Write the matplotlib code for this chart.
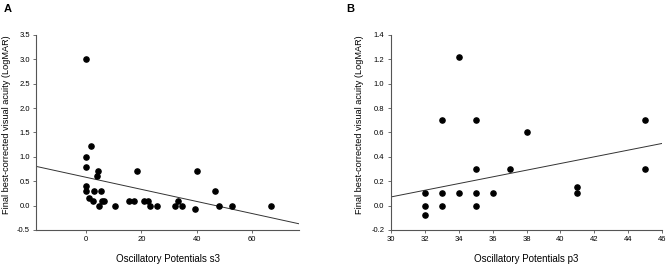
import numpy as np
import matplotlib
matplotlib.use("Agg")
import matplotlib.pyplot as plt

plt.rcParams['font.family'] = ['Liberation Sans', 'DejaVu Sans']

# panel A: oscillatory potentials s3 vs final BCVA
s3_x = [0, 0, 0, 0, 0, 2.0, 1.1, 2.9, 2.5, 4.1, 4.2, 4.7, 5.3, 5.9, 6.7,
        10.4, 15.5, 17.2, 18.4, 20.9, 22.6, 23.3, 25.6, 32.2, 33.3, 34.8,
        39.5, 40.2, 46.5, 47.9, 52.6, 66.8]
s3_y = [3.0, 1.0, 0.8, 0.4, 0.3, 1.22, 0.15, 0.3, 0.1, 0.6, 0.7, 0.0, 0.3, 0.1, 0.1,
        0.0, 0.1, 0.1, 0.7, 0.1, 0.1, 0.0, 0.0, 0.0, 0.1, 0.0,
        -0.08, 0.7, 0.3, 0.0, 0.0, 0.0]
s3_fit = [0.58, -0.0124]   # intercept, slope

# panel B: oscillatory potentials p3 vs final BCVA
p3_x = [32, 32, 32, 33, 33, 33, 34, 34, 35, 35, 35, 35, 36, 37, 38, 41, 41, 45, 45]
p3_y = [0.1, 0.0, -0.08, 0.7, 0.1, 0.0, 1.22, 0.1, 0.7, 0.3, 0.1, 0.0, 0.1, 0.3, 0.6,
        0.15, 0.1, 0.7, 0.3]
p3_fit = [-0.755, 0.0275]

ylab = "Final best-corrected visual acuity (LogMAR)"

fig = plt.figure(figsize=(6.69, 2.67), dpi=100)
axA = fig.add_axes([0.054, 0.139, 0.393, 0.730])
axB = fig.add_axes([0.584, 0.139, 0.406, 0.730])


def style(ax):
    for s in ['top', 'right']:
        ax.spines[s].set_visible(False)
    for s in ['left', 'bottom']:
        ax.spines[s].set_color('#555555')
        ax.spines[s].set_linewidth(0.8)
    ax.tick_params(labelsize=5.5, length=2.5, width=0.6, color='#555555', pad=2)


axA.scatter(s3_x, s3_y, s=14, color='black', zorder=3)
xl = np.array([-18, 77])
axA.plot(xl, s3_fit[0] + s3_fit[1] * xl, color='#333333', lw=0.7)
axA.set_xlim(-18, 77)
axA.set_ylim(-0.5, 3.5)
axA.set_xticks([0, 20, 40, 60])
axA.set_yticks(np.arange(-0.5, 3.51, 0.5))
axA.set_yticklabels([f"{v:.1f}" for v in np.arange(-0.5, 3.51, 0.5)])
axA.set_xlabel("Oscillatory Potentials s3", fontsize=7, labelpad=8)
axA.set_ylabel(ylab, fontsize=6.6)
axA.yaxis.set_label_coords(-0.095, 0.54)
style(axA)

axB.scatter(p3_x, p3_y, s=14, color='black', zorder=3)
xl = np.array([30, 46])
axB.plot(xl, p3_fit[0] + p3_fit[1] * xl, color='#333333', lw=0.7)
axB.set_xlim(30, 46)
axB.set_ylim(-0.2, 1.4)
axB.set_xticks(range(30, 47, 2))
axB.set_yticks(np.arange(-0.2, 1.41, 0.2))
axB.set_yticklabels([f"{v:.1f}" for v in np.arange(-0.2, 1.41, 0.2)])
axB.set_xlabel("Oscillatory Potentials p3", fontsize=7, labelpad=8)
axB.set_ylabel(ylab, fontsize=6.6)
axB.yaxis.set_label_coords(-0.10, 0.54)
style(axB)

fig.text(0.006, 0.955, "A", fontsize=8, fontweight='bold')
fig.text(0.518, 0.955, "B", fontsize=8, fontweight='bold')

fig.savefig("out.png", dpi=100)
